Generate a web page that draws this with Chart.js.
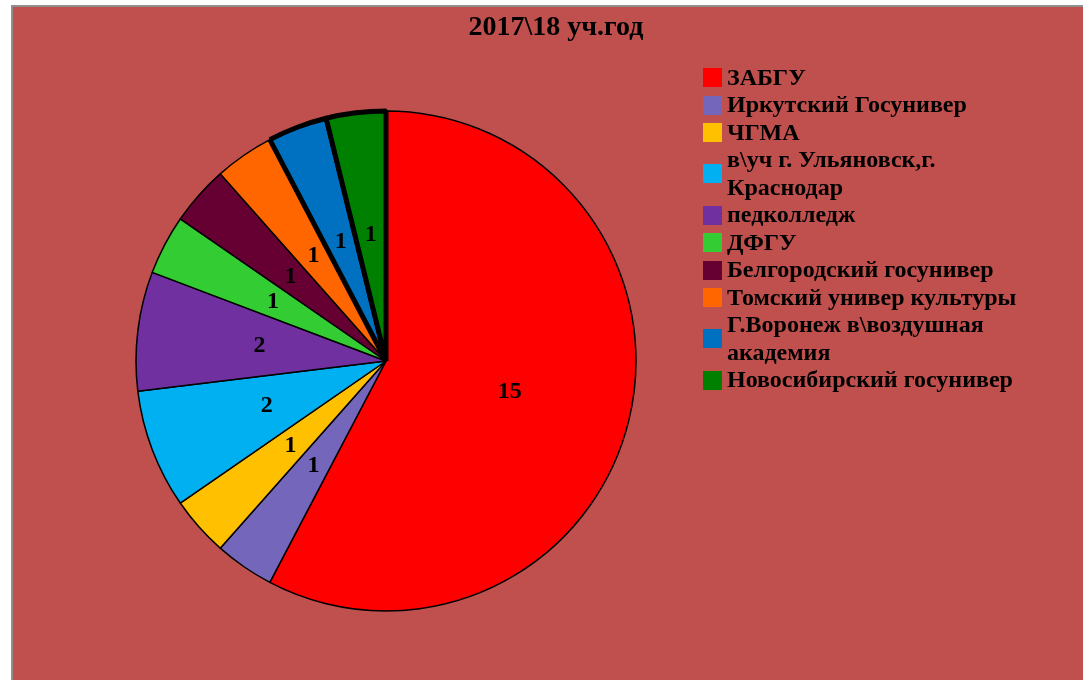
<!DOCTYPE html>
<html>
<head>
<meta charset="utf-8">
<script src="https://cdn.jsdelivr.net/npm/chart.js@4"></script>
<style>
  html, body { margin: 0; padding: 0; background: #ffffff; overflow: hidden; width: 1083px; height: 680px; }
  #frame { position: absolute; left: 11px; top: 5px; width: 1100px; height: 700px;
           border-left: 2px solid #8f8f8f; border-top: 2px solid #8f8f8f; background: #C0504D; }
  #c { position: absolute; left: 0; top: 0; }
  #title { position: absolute; left: 356px; width: 400px; top: 11.6px; text-align: center;
           font: bold 28px 'Liberation Serif', 'Times New Roman', serif; line-height: 28px; color: #000; }
  #legend { position: absolute; left: 703px; top: 63.75px; }
  .item { display: flex; align-items: center; }
  .box { width: 19px; height: 19px; margin-right: 5px; flex: none; }
  .txt { font: bold 24px 'Liberation Serif', 'Times New Roman', serif; line-height: 27.5px; color: #000; white-space: nowrap; }
</style>
</head>
<body>
<div id="frame"></div>
<canvas id="c" width="1083" height="680"></canvas>
<div id="title"></div>
<div id="legend"></div>
<script>
const chartTitle = '2017\\18 уч.год';
const categories = [
  'ЗАБГУ',
  'Иркутский Госунивер',
  'ЧГМА',
  ['в\\уч г. Ульяновск,г.', 'Краснодар'],
  'педколледж',
  'ДФГУ',
  'Белгородский госунивер',
  'Томский универ культуры',
  ['Г.Воронеж в\\воздушная', 'академия'],
  'Новосибирский госунивер'
];
const values = [15, 1, 1, 2, 2, 1, 1, 1, 1, 1];
const colors = ['#FF0000', '#7467BB', '#FFC000', '#00B0F0', '#7030A0', '#33CC33', '#660033', '#FF6600', '#0070C0', '#008000'];
const borderWidths = [1.5, 1.5, 1.5, 1.5, 1.5, 1.5, 1.5, 1.5, 5, 5];

document.getElementById('title').textContent = chartTitle;

const legend = document.getElementById('legend');
categories.forEach((lab, i) => {
  const item = document.createElement('div');
  item.className = 'item';
  const box = document.createElement('div');
  box.className = 'box';
  box.style.background = colors[i];
  const txt = document.createElement('div');
  txt.className = 'txt';
  const lines = Array.isArray(lab) ? lab : [lab];
  lines.forEach((l, k) => {
    if (k) txt.appendChild(document.createElement('br'));
    txt.appendChild(document.createTextNode(l));
  });
  item.appendChild(box);
  item.appendChild(txt);
  legend.appendChild(item);
});

const valueLabels = {
  id: 'valueLabels',
  afterDatasetsDraw(chart) {
    const ctx = chart.ctx;
    const meta = chart.getDatasetMeta(0);
    ctx.save();
    ctx.font = "bold 24px 'Liberation Serif', 'Times New Roman', serif";
    ctx.fillStyle = '#000';
    ctx.textAlign = 'center';
    ctx.textBaseline = 'middle';
    meta.data.forEach((arc, i) => {
      const p = arc.getProps(['x', 'y', 'startAngle', 'endAngle', 'outerRadius'], true);
      const mid = (p.startAngle + p.endAngle) / 2;
      const r = p.outerRadius * 0.51;
      ctx.fillText(String(chart.data.datasets[0].data[i]), p.x + Math.cos(mid) * r, p.y + Math.sin(mid) * r);
    });
    ctx.restore();
  }
};

new Chart(document.getElementById('c'), {
  type: 'pie',
  data: {
    labels: categories,
    datasets: [{
      data: values,
      backgroundColor: colors,
      borderColor: '#000000',
      borderWidth: borderWidths,
      hoverBorderWidth: borderWidths,
      hoverOffset: 0
    }]
  },
  options: {
    responsive: false,
    animation: false,
    events: [],
    layout: { padding: { left: 133.5, top: 108.5, right: 444.5, bottom: 66.5 } },
    plugins: { legend: { display: false }, title: { display: false }, tooltip: { enabled: false } }
  },
  plugins: [valueLabels]
});
</script>
</body>
</html>
